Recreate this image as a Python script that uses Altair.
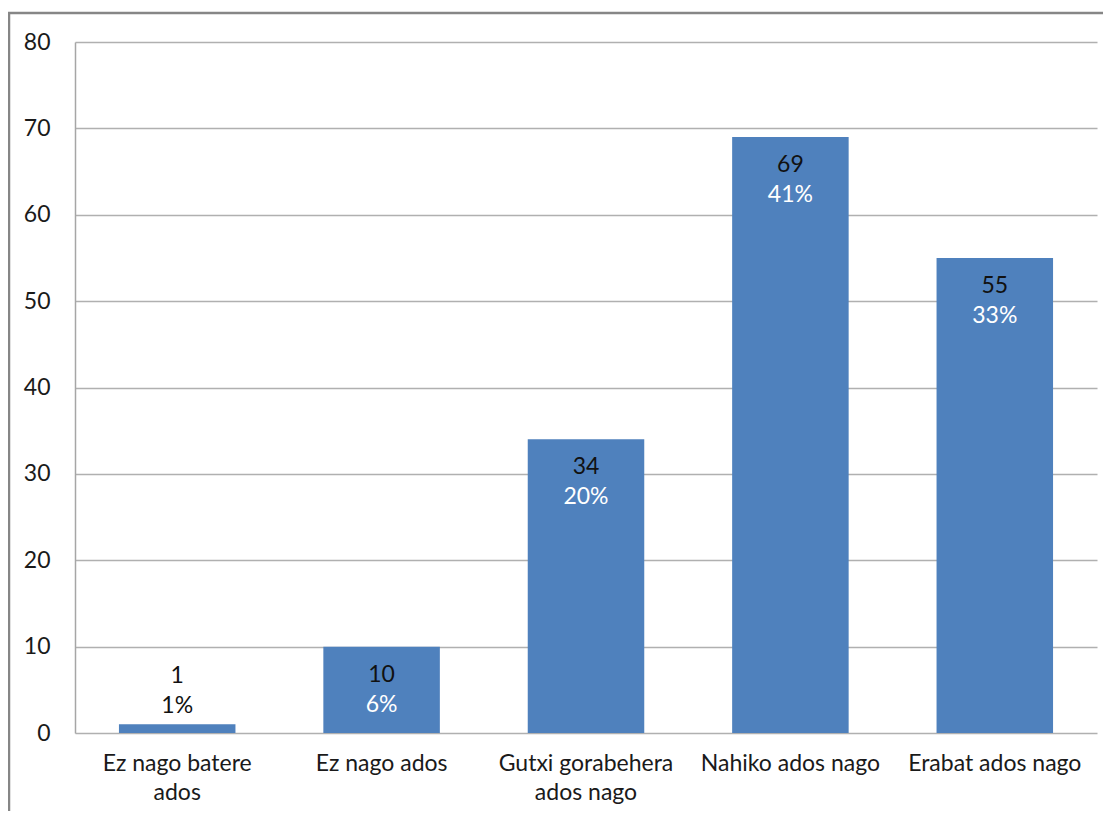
import altair as alt
import pandas as pd

categories = ["Ez nago batere|ados", "Ez nago ados", "Gutxi gorabehera|ados nago",
              "Nahiko ados nago", "Erabat ados nago"]
counts = [1, 10, 34, 69, 55]

df = pd.DataFrame({"cat": categories, "count": counts})

FONT = "Lato"
FS = 23
W, H = 1022, 691

base = alt.Chart(df).transform_joinaggregate(
    total="sum(count)"
).transform_calculate(
    pct="datum.count / datum.total"
)

x_enc = alt.X("cat:N", sort=categories, title=None,
              scale=alt.Scale(paddingInner=0.43, paddingOuter=0.215),
              axis=alt.Axis(labelExpr="split(datum.label, '|')", labelAngle=0,
                            labelFontSize=FS, labelFont=FONT, labelColor="#1a1a1a",
                            labelLineHeight=29, labelPadding=19, ticks=False,
                            domain=False, grid=False, labelBaseline="top"))
y_enc = alt.Y("count:Q", title=None,
              scale=alt.Scale(domain=[0, 80], nice=False),
              axis=alt.Axis(values=list(range(0, 81, 10)), labelFontSize=FS,
                            labelFont=FONT, labelColor="#1a1a1a", labelPadding=25,
                            ticks=False, domain=True, domainColor="#A6A6A6",
                            domainWidth=1.5, grid=True, gridColor="#B0B0B0",
                            gridWidth=1.5))

bars = base.mark_bar(color="#4F81BD").encode(x=x_enc, y=y_enc)

big = base.transform_filter("datum.count >= 5")
small = base.transform_filter("datum.count < 5")

txt_kw = dict(font=FONT, fontSize=FS, baseline="middle", align="center")

cnt_in = big.mark_text(color="#111111", dy=28, **txt_kw).encode(
    x=alt.X("cat:N", sort=categories), y="count:Q", text=alt.Text("count:Q"))
pct_in = big.mark_text(color="white", dy=58, **txt_kw).encode(
    x=alt.X("cat:N", sort=categories), y="count:Q", text=alt.Text("pct:Q", format=".0%"))
cnt_out = small.mark_text(color="#111111", dy=-48, **txt_kw).encode(
    x=alt.X("cat:N", sort=categories), y="count:Q", text=alt.Text("count:Q"))
pct_out = small.mark_text(color="#111111", dy=-18, **txt_kw).encode(
    x=alt.X("cat:N", sort=categories), y="count:Q", text=alt.Text("pct:Q", format=".0%"))

frame = alt.Chart(pd.DataFrame({"k": [0]})).mark_rect(
    fill=None, stroke="#868686", strokeWidth=2.5, clip=False
).encode(x=alt.value(-66), x2=alt.value(W + 60), y=alt.value(-29), y2=alt.value(H + 200))

chart = alt.layer(frame, bars, cnt_in, pct_in, cnt_out, pct_out).properties(
    width=W, height=H,
    autosize=alt.AutoSizeParams(type="none"),
    padding={"left": 67, "top": 34, "right": 6, "bottom": 78},
    background="white",
).configure_view(stroke=None)

chart.save("out.html", embed_options={"renderer": "svg", "actions": False})
